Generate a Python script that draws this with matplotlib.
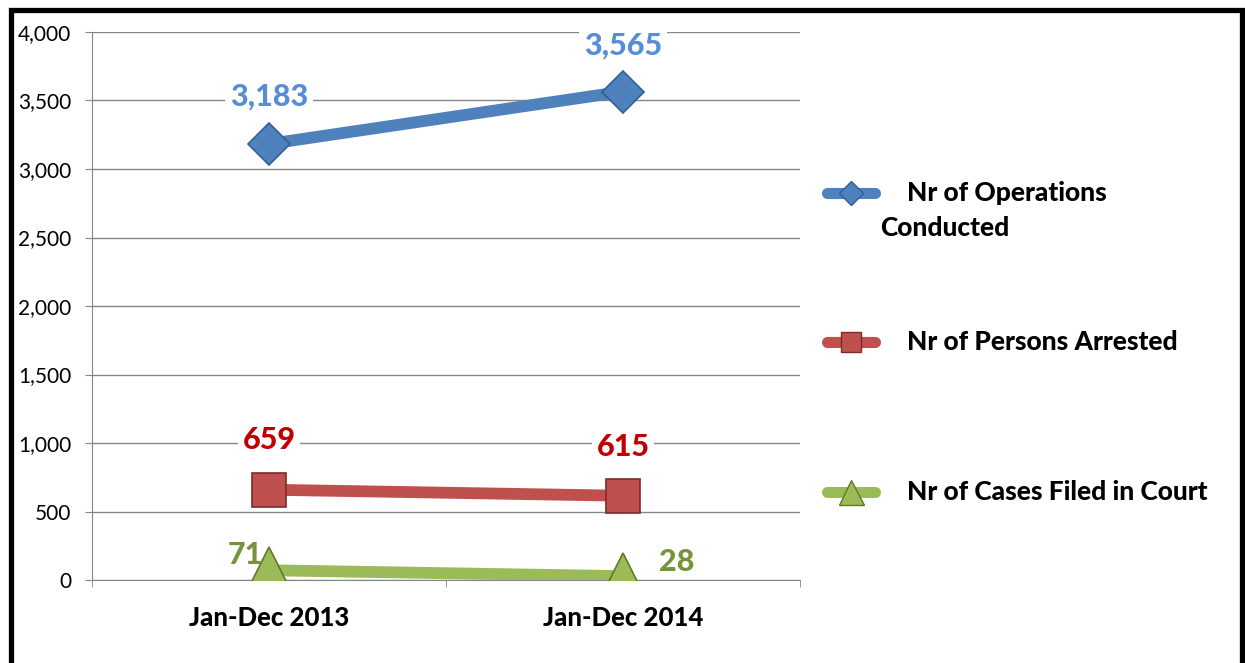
import matplotlib
matplotlib.use("Agg")
import matplotlib.pyplot as plt
from matplotlib.lines import Line2D
from matplotlib.patches import Rectangle

PERIODS = ["Jan-Dec 2013", "Jan-Dec 2014"]
OPERATIONS = [3183, 3565]
ARRESTED = [659, 615]
CASES = [71, 28]
YTICKS = [0, 500, 1000, 1500, 2000, 2500, 3000, 3500, 4000]

plt.rcParams["font.family"] = ["Lato", "DejaVu Sans"]
BOLD = 900

W, H = 1245, 663
fig = plt.figure(figsize=(W / 100, H / 100), dpi=100)
ax = fig.add_axes([92 / W, 1 - 580 / H, 708 / W, 548 / H])

series = [
    (OPERATIONS, "#4F81BD", "#2F5F95", "D", 21, "#558ED5",
     [(0, 34), (0, 33)], True),
    (ARRESTED, "#C0504D", "#7F2A28", "s", 24, "#C00000",
     [(0, 36), (0, 35)], True),
    (CASES, "#9BBB59", "#5E7A2A", "^", 33, "#77933C",
     [(-17, 11), (39, 10)], False),
]

x = list(range(len(PERIODS)))
for vals, col, edge, mk, ms, lcol, offs, boxed in series:
    ax.plot(x, vals, color=col, lw=8.5, solid_capstyle="round", zorder=3)
    ax.plot(x, vals, ls="none", marker=mk, ms=ms, mfc=col, mec=edge,
            mew=1.2, zorder=5)
    for xi, v, off in zip(x, vals, offs):
        box = dict(boxstyle="square,pad=0.15", fc="white", ec="none") if boxed else None
        ax.annotate(f"{v:,}", (xi, v), xytext=off, textcoords="offset points",
                    ha="center", va="center", fontsize=22, fontweight=BOLD,
                    color=lcol, zorder=4, bbox=box)

ax.set_xlim(-0.5, 1.5)
ax.set_ylim(0, 4000)
ax.set_yticks(YTICKS)
ax.set_yticklabels([f"{t:,}" for t in YTICKS], fontsize=15)
ax.set_xticks(x)
ax.set_xticklabels(PERIODS, fontsize=18.5, fontweight=BOLD)
ax.tick_params(axis="x", length=0, pad=19)
ax.set_xticks([-0.5, 0.5, 1.5], minor=True)
ax.tick_params(axis="x", which="minor", length=5, color="#868686")
ax.tick_params(axis="y", length=5, color="#868686", pad=10)
ax.grid(axis="y", color="#868686", lw=1)
ax.set_axisbelow(True)
for s in ["top", "right"]:
    ax.spines[s].set_visible(False)
for s in ["left", "bottom"]:
    ax.spines[s].set_color("#868686")

# legend drawn by hand
def fx(px):
    return px / W

def fy(py):
    return 1 - py / H

legend_rows = [
    (193, "#4F81BD", "#2F5F95", "D", 12),
    (342, "#C0504D", "#7F2A28", "s", 14),
    (492, "#9BBB59", "#5E7A2A", "^", 18),
]
for py, col, edge, mk, ms in legend_rows:
    fig.add_artist(Line2D([fx(827), fx(875)], [fy(py), fy(py)], color=col,
                          lw=8, solid_capstyle="round"))
    fig.add_artist(Line2D([fx(851)], [fy(py)], marker=mk, ms=ms, mfc=col,
                          mec=edge, mew=1))

lkw = dict(fontsize=19, fontweight=BOLD, va="center", ha="left")
fig.text(fx(907), fy(193), "Nr of Operations", **lkw)
fig.text(fx(880), fy(228), "Conducted", **lkw)
fig.text(fx(907), fy(342), "Nr of Persons Arrested", **lkw)
fig.text(fx(907), fy(492), "Nr of Cases Filed in Court", **lkw)

fig.add_artist(Rectangle((fx(10.5), fy(700)), fx(1231.5), (700 - 10) / H,
                         transform=fig.transFigure, fill=False, ec="black",
                         lw=3.8))

fig.savefig("out.png", dpi=100)
